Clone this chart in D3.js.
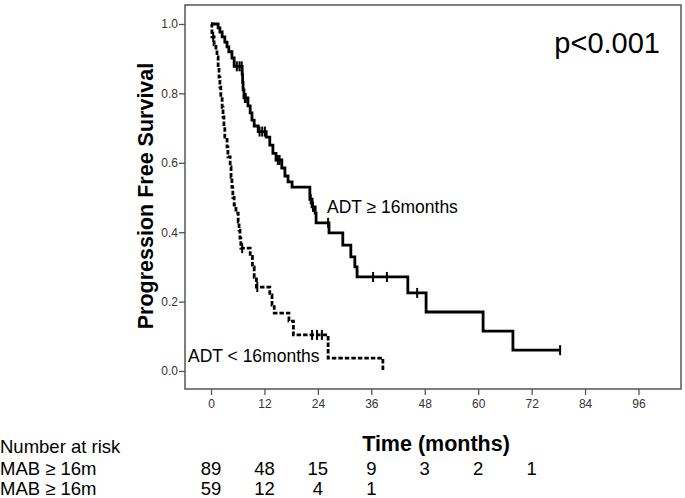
<!DOCTYPE html>
<html><head><meta charset="utf-8">
<script src="https://cdnjs.cloudflare.com/ajax/libs/d3/7.8.5/d3.min.js"></script>
<style>
body{margin:0;background:#fff;}
svg{display:block;font-family:"Liberation Sans",Arial,sans-serif;}
</style></head>
<body>
<svg id="chart" width="685" height="498"></svg>
<script>
// Kaplan-Meier step data (time in months, survival after each drop)
const timesLong = [0, 1.6, 2.0, 2.5, 3.1, 3.6, 4.0, 4.7, 5.2, 7.0, 7.1, 7.2, 7.4, 8.3, 8.8, 9.2, 9.7, 10.6, 12.4, 13.2, 13.9, 14.6, 15.9, 16.6, 17.3, 18.2, 22.2, 22.7, 23.4, 23.6, 26.5, 29.6, 31.4, 32.3, 32.8, 44.2, 48.3, 61.1, 67.8, 78.4];
const survLong  = [1.0, 0.989, 0.977, 0.963, 0.948, 0.934, 0.92, 0.902, 0.878, 0.855, 0.832, 0.81, 0.787, 0.764, 0.744, 0.723, 0.706, 0.69, 0.674, 0.651, 0.627, 0.608, 0.585, 0.562, 0.545, 0.53, 0.495, 0.473, 0.455, 0.427, 0.398, 0.363, 0.329, 0.30, 0.271, 0.225, 0.17, 0.115, 0.06, 0.06];
const censorLong = [5.8, 6.4, 6.9, 7.6, 7.8, 10.9, 11.5, 12.1, 15.0, 15.4, 22.4, 22.9, 26.3, 36.4, 39.5, 46.3, 78.4];

const timesShort = [0, 0.2, 0.7, 1.1, 1.35, 1.6, 1.8, 2.0, 2.2, 2.5, 2.7, 2.9, 3.1, 3.6, 3.8, 4.3, 4.5, 4.7, 4.9, 5.2, 5.6, 6.1, 6.3, 6.5, 6.7, 8.8, 9.3, 9.7, 10.2, 13.2, 13.7, 14.2, 17.5, 18.5, 26.3, 38.6];
const survShort  = [1.0, 0.963, 0.94, 0.925, 0.905, 0.876, 0.847, 0.818, 0.79, 0.76, 0.732, 0.703, 0.674, 0.646, 0.617, 0.588, 0.559, 0.53, 0.50, 0.478, 0.455, 0.43, 0.406, 0.383, 0.354, 0.33, 0.30, 0.27, 0.242, 0.219, 0.19, 0.167, 0.144, 0.104, 0.037, 0.0];
const censorShort = [0.5, 7.0, 10.4, 22.7, 23.8, 24.9];

const xTicks = [0, 12, 24, 36, 48, 60, 72, 84, 96];
const yTicks = [0.0, 0.2, 0.4, 0.6, 0.8, 1.0];

const riskLabels = ["MAB \u2265 16m", "MAB \u2265 16m"];
const riskTimes = [0, 12, 24, 36, 48, 60, 72];
const riskLong = [89, 48, 15, 9, 3, 2, 1];
const riskShort = [59, 12, 4, 1];

const svg = d3.select("#chart");
const x = d3.scaleLinear().domain([0, 96]).range([211, 638.5]);
const y = d3.scaleLinear().domain([0, 1]).range([371, 24]);

// frame
svg.append("rect").attr("x", 185).attr("y", 5).attr("width", 496).attr("height", 384)
  .attr("fill", "none").attr("stroke", "#555").attr("stroke-width", 1.5);

// y axis ticks
const yAxis = d3.axisLeft(y).tickValues(yTicks).tickFormat(d3.format(".1f")).tickSize(6).tickSizeOuter(0);
const gy = svg.append("g").attr("transform", "translate(185,0)").call(yAxis);
gy.select(".domain").remove();
gy.selectAll("line").attr("stroke", "#555").attr("stroke-width", 1.3);
gy.selectAll("text").attr("fill", "#333").attr("font-size", 12)
  .attr("font-family", "'Liberation Sans Narrow','Liberation Sans',Arial,sans-serif").attr("x", -7);

// x axis ticks
const xAxis = d3.axisBottom(x).tickValues(xTicks).tickSize(6).tickSizeOuter(0);
const gx = svg.append("g").attr("transform", "translate(0,389)").call(xAxis);
gx.select(".domain").remove();
gx.selectAll("line").attr("stroke", "#555").attr("stroke-width", 1.3);
gx.selectAll("text").attr("fill", "#333").attr("font-size", 12)
  .attr("font-family", "'Liberation Sans Narrow','Liberation Sans',Arial,sans-serif").attr("y", 10);

// curves
const line = d3.line().x(d => x(d[0])).y(d => y(d[1])).curve(d3.curveStepAfter);
const dataLong = timesLong.map((t, i) => [t, survLong[i]]);
const dataShort = timesShort.map((t, i) => [t, survShort[i]]);

svg.append("path").datum(dataLong).attr("d", line).attr("fill", "none")
  .attr("stroke", "#000").attr("stroke-width", 2.8);
svg.append("path").datum(dataShort).attr("d", line).attr("fill", "none")
  .attr("stroke", "#000").attr("stroke-width", 2.8).attr("stroke-dasharray", "4.5,2");

function survAt(times, surv, t) {
  let s = surv[0];
  for (let i = 0; i < times.length; i++) { if (times[i] <= t) s = surv[i]; }
  return s;
}
function drawCensors(cts, times, surv) {
  svg.append("g").selectAll("line").data(cts).join("line")
    .attr("x1", d => x(d)).attr("x2", d => x(d))
    .attr("y1", d => y(survAt(times, surv, d)) - 5)
    .attr("y2", d => y(survAt(times, surv, d)) + 5)
    .attr("stroke", "#000").attr("stroke-width", 2);
}
drawCensors(censorLong, timesLong, survLong);
drawCensors(censorShort, timesShort, survShort);

// labels
svg.append("text").attr("x", 327).attr("y", 213).attr("font-size", 17.5).attr("fill", "#000")
  .text("ADT \u2265 16months");
svg.append("text").attr("x", 188).attr("y", 362).attr("font-size", 17.5).attr("fill", "#000")
  .text("ADT < 16months");
svg.append("text").attr("x", 660).attr("y", 53).attr("text-anchor", "end").attr("font-size", 29).attr("fill", "#000")
  .text("p<0.001");

svg.append("text").attr("transform", "translate(153,196) rotate(-90)").attr("text-anchor", "middle")
  .attr("font-size", 21.5).attr("font-weight", "bold").attr("fill", "#000").text("Progression Free Survival");
svg.append("text").attr("x", 436).attr("y", 451).attr("text-anchor", "middle")
  .attr("font-size", 21.5).attr("font-weight", "bold").attr("fill", "#000").text("Time (months)");

// number at risk
svg.append("text").attr("x", 0).attr("y", 453).attr("font-size", 18.5).attr("fill", "#000").text("Number at risk");
const rows = [riskLong, riskShort];
rows.forEach((vals, r) => {
  const yy = 475 + r * 20;
  svg.append("text").attr("x", 0).attr("y", yy).attr("font-size", 18.5).attr("fill", "#000").text(riskLabels[r]);
  svg.append("g").selectAll("text").data(vals).join("text")
    .attr("x", (d, i) => x(riskTimes[i])).attr("y", yy).attr("text-anchor", "middle")
    .attr("font-size", 18.5).attr("fill", "#000").text(d => d);
});
</script>
</body></html>
